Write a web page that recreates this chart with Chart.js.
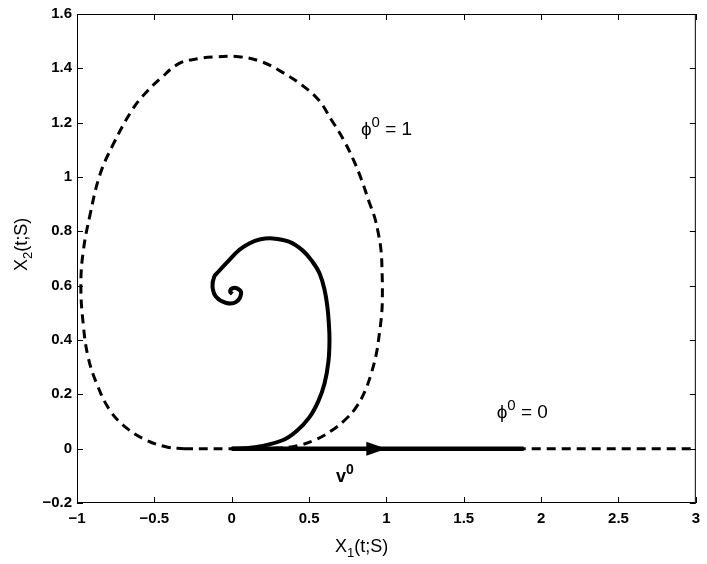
<!DOCTYPE html>
<html>
<head>
<meta charset="utf-8">
<script src="https://cdn.jsdelivr.net/npm/chart.js@4"></script>
<style>
  html, body { margin: 0; padding: 0; background: #fff; }
  canvas { display: block; }
</style>
</head>
<body>
<canvas id="phaseChart" width="707" height="564"></canvas>
<script>
// trajectory for phi0 = 1 (dashed loop)
const loopX = [-0.31, 0, 0.3, 0.44, 0.55, 0.652, 0.74, 0.806, 0.86, 0.903, 0.935, 0.955, 0.97, 0.974, 0.972, 0.965, 0.945, 0.923, 0.89, 0.839, 0.787, 0.723, 0.645, 0.561, 0.452, 0.323, 0.194, 0.045, -0.1, -0.21, -0.339, -0.465, -0.552, -0.64, -0.768, -0.852, -0.916, -0.96, -0.975, -0.96, -0.928, -0.873, -0.787, -0.677, -0.55, -0.42, -0.31];
const loopY = [0, 0, 0.002, 0.013, 0.035, 0.069, 0.11, 0.154, 0.21, 0.279, 0.35, 0.426, 0.5, 0.573, 0.65, 0.731, 0.8, 0.853, 0.905, 0.99, 1.063, 1.137, 1.21, 1.284, 1.339, 1.387, 1.424, 1.443, 1.442, 1.436, 1.418, 1.36, 1.312, 1.25, 1.118, 1.008, 0.86, 0.725, 0.6, 0.46, 0.337, 0.24, 0.141, 0.075, 0.031, 0.006, 0];

// trajectory for phi0 = 0 (dashed along the axis)
const flatX = [0, 3];
const flatY = [0, 0];

// solid spiral
const spiralX = [0, 0.15, 0.329, 0.42, 0.503, 0.56, 0.6, 0.625, 0.632, 0.628, 0.619, 0.6, 0.568, 0.52, 0.458, 0.37, 0.265, 0.18, 0.116, 0.048, -0.035, -0.085, -0.113, -0.124, -0.1, -0.035, 0.029, 0.061, 0.035, 0.003, -0.01, 0.005];
const spiralY = [0, 0.005, 0.031, 0.065, 0.116, 0.175, 0.24, 0.32, 0.399, 0.46, 0.52, 0.585, 0.645, 0.69, 0.73, 0.762, 0.774, 0.77, 0.756, 0.731, 0.683, 0.652, 0.633, 0.596, 0.558, 0.536, 0.54, 0.573, 0.59, 0.59, 0.577, 0.57];

// v0 direction
const vecX = [0, 1.887];
const vecY = [0, 0];
const arrowX = [0.87, 1.0];

const xTicks = [-1, -0.5, 0, 0.5, 1, 1.5, 2, 2.5, 3];
const yTicks = [-0.2, 0, 0.2, 0.4, 0.6, 0.8, 1, 1.2, 1.4, 1.6];

// text notes: [x, y, base, sup, rest, bold]
const notes = [
    [0.835, 1.155, '\u03D5', '0', ' = 1', false],
    [1.713, 0.112, '\u03D5', '0', ' = 0', false],
    [0.674, -0.124, 'v', '0', '', true],
];

function toPoints(xs, ys) {
    return xs.map((x, i) => ({x: x, y: ys[i]}));
}

function fmt(v) {
    let s = String(Math.round(v * 10) / 10);
    return s.replace('-', '\u2212');
}

const fontName = '"Liberation Sans", Arial, Helvetica, sans-serif';

function drawSubSup(ctx, x, y, base, small, rest, size, smallSize, bold, shift) {
    let w = bold ? 'bold ' : '';
    ctx.font = w + size + 'px ' + fontName;
    ctx.fillText(base, x, y);
    x += ctx.measureText(base).width;
    ctx.font = w + smallSize + 'px ' + fontName;
    ctx.fillText(small, x, y + shift);
    x += ctx.measureText(small).width;
    ctx.font = w + size + 'px ' + fontName;
    ctx.fillText(rest, x, y);
}

const decorPlugin = {
    id: 'decor',
    afterDatasetsDraw(chart) {
        const ctx = chart.ctx;
        const area = chart.chartArea;
        const xs = chart.scales.x;
        const ys = chart.scales.y;
        ctx.save();

        // arrow head on v0
        let bx = xs.getPixelForValue(arrowX[0]);
        let tx = xs.getPixelForValue(arrowX[1]);
        let py = ys.getPixelForValue(0);
        ctx.fillStyle = '#000';
        ctx.beginPath();
        ctx.moveTo(bx, py - 7);
        ctx.lineTo(tx, py);
        ctx.lineTo(bx, py + 7);
        ctx.closePath();
        ctx.fill();

        // box and inward ticks
        ctx.strokeStyle = '#000';
        ctx.lineWidth = 1;
        ctx.strokeRect(area.left + 0.5, area.top + 0.5, area.right - area.left - 1, area.bottom - area.top - 1);
        ctx.beginPath();
        xTicks.forEach(v => {
            let px = Math.round(xs.getPixelForValue(v)) + 0.5;
            ctx.moveTo(px, area.bottom);
            ctx.lineTo(px, area.bottom - 6);
            ctx.moveTo(px, area.top);
            ctx.lineTo(px, area.top + 6);
        });
        yTicks.forEach(v => {
            let p = Math.round(ys.getPixelForValue(v)) + 0.5;
            ctx.moveTo(area.left, p);
            ctx.lineTo(area.left + 6, p);
            ctx.moveTo(area.right, p);
            ctx.lineTo(area.right - 6, p);
        });
        ctx.stroke();

        // annotations
        ctx.textBaseline = 'alphabetic';
        ctx.textAlign = 'left';
        notes.forEach(n => {
            let px = xs.getPixelForValue(n[0]);
            let ny = ys.getPixelForValue(n[1]);
            if (n[5]) {
                drawSubSup(ctx, px, ny, n[2], n[3], n[4], 18, 14, true, -8);
            } else {
                drawSubSup(ctx, px, ny, n[2], n[3], n[4], 19, 15, false, -8);
            }
        });

        // axis titles
        drawSubSup(ctx, 335, 552, 'X', '1', '(t;S)', 18, 13, false, 5);
        ctx.translate(27, 271);
        ctx.rotate(-Math.PI / 2);
        drawSubSup(ctx, 0, 0, 'X', '2', '(t;S)', 18, 13, false, 5);
        ctx.restore();
    }
};

const ctx = document.getElementById('phaseChart').getContext('2d');
const chart = new Chart(ctx, {
    type: 'scatter',
    data: {
        datasets: [
            {
                data: toPoints(vecX, vecY),
                showLine: true,
                borderColor: '#000',
                borderWidth: 4.5,
                pointRadius: 0,
                order: 1,
            },
            {
                data: toPoints(spiralX, spiralY),
                showLine: true,
                borderColor: '#000',
                borderWidth: 4,
                tension: 0.4,
                pointRadius: 0,
                order: 1,
            },
            {
                data: toPoints(loopX, loopY),
                showLine: true,
                borderColor: '#000',
                borderWidth: 3,
                borderDash: [9, 6],
                tension: 0.4,
                pointRadius: 0,
                order: 2,
            },
            {
                data: toPoints(flatX, flatY),
                showLine: true,
                borderColor: '#000',
                borderWidth: 3,
                borderDash: [9, 6],
                pointRadius: 0,
                order: 2,
            },
        ]
    },
    options: {
        responsive: false,
        animation: false,
        layout: {
            padding: {left: 0, top: 14, right: 10, bottom: 0},
        },
        plugins: {
            legend: {display: false},
            tooltip: {enabled: false},
        },
        scales: {
            x: {
                type: 'linear',
                min: -1,
                max: 3,
                afterFit: scale => { scale.height = 61; },
                afterBuildTicks: scale => { scale.ticks = xTicks.map(v => ({value: v})); },
                grid: {display: false, drawTicks: false},
                border: {display: false},
                ticks: {
                    color: '#000',
                    padding: 7,
                    maxRotation: 0,
                    autoSkip: false,
                    font: {family: fontName, size: 15, weight: 'bold'},
                    callback: v => fmt(v),
                },
            },
            y: {
                type: 'linear',
                min: -0.2,
                max: 1.6,
                afterFit: scale => { scale.width = 77; },
                afterBuildTicks: scale => { scale.ticks = yTicks.map(v => ({value: v})); },
                grid: {display: false, drawTicks: false},
                border: {display: false},
                ticks: {
                    color: '#000',
                    padding: 5,
                    autoSkip: false,
                    font: {family: fontName, size: 15, weight: 'bold'},
                    callback: v => fmt(v),
                },
            },
        },
    },
    plugins: [decorPlugin],
});
</script>
</body>
</html>
